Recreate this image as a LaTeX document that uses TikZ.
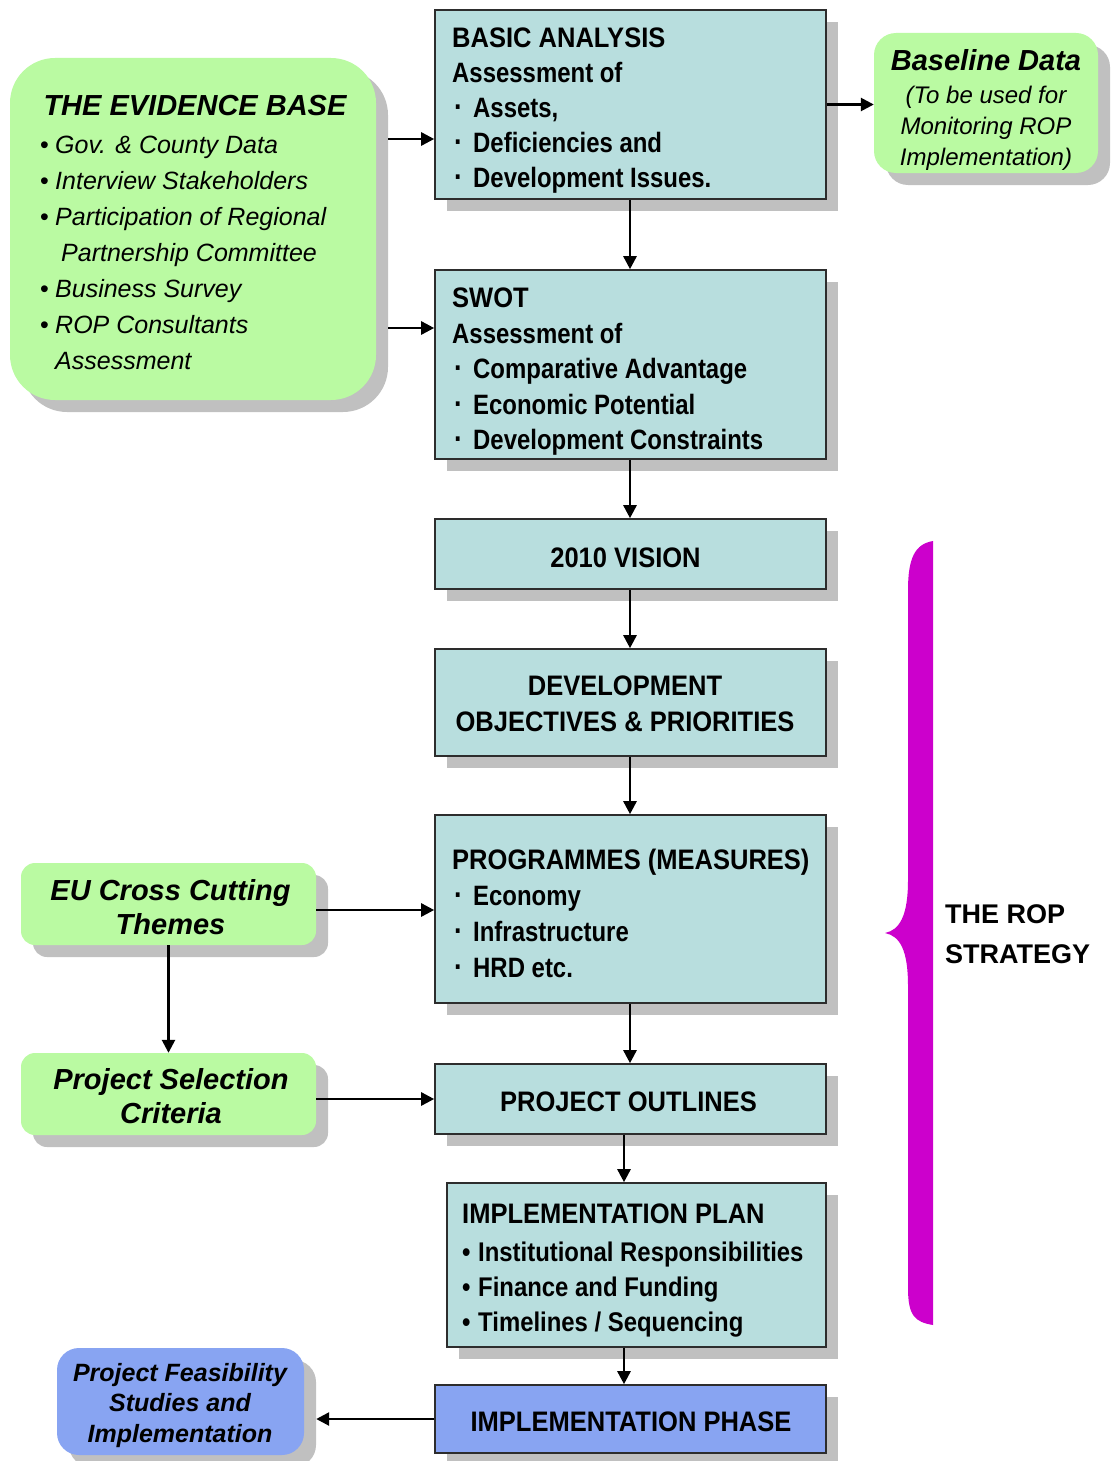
\documentclass[tikz,border=0pt]{standalone}
\usepackage{fontspec}
\setmainfont{Liberation Sans}
\newfontfamily\nca[FakeStretch=0.905]{Liberation Sans}
\newfontfamily\ncb[FakeStretch=0.855]{Liberation Sans}
\newfontfamily\ncc[FakeStretch=0.885]{Liberation Sans}
\usetikzlibrary{arrows.meta,shadows}
\definecolor{tealfill}{RGB}{184,222,222}
\definecolor{greenfill}{RGB}{186,250,162}
\definecolor{bluefill}{RGB}{136,164,242}
\definecolor{shadgray}{RGB}{192,192,192}
\definecolor{magbrace}{RGB}{204,0,204}
\definecolor{edgegray}{RGB}{45,45,45}
\newcommand{\capline}[1]{{\fontsize{28.2}{35}\selectfont\nca #1}}
\newcommand{\bitem}[1]{\makebox[21pt][l]{\hspace{2pt}{\fontsize{31}{35}\selectfont·}}#1}
\newcommand{\pitem}[1]{\makebox[16pt][l]{•}#1}
\newcommand{\eitem}[1]{\makebox[15pt][l]{\upshape•}#1}
\begin{document}
\begin{tikzpicture}[x=1pt,y=-1pt,
  shad/.style={drop shadow={shadow xshift=12pt,shadow yshift=-12pt,fill=shadgray,opacity=1}},
  mainbox/.style={draw=edgegray,line width=1.6pt,fill=tealfill,shad,inner sep=0pt},
  phasebox/.style={mainbox,fill=bluefill},
  softbox/.style={fill=greenfill,shad,inner sep=0pt},
  bluesoft/.style={fill=bluefill,shad,inner sep=0pt},
  boxtext/.style={inner sep=0pt,align=left,font=\fontsize{28}{35}\selectfont\bfseries},
  ctext/.style={inner sep=0pt,align=center,font=\fontsize{28.2}{36}\selectfont\bfseries\nca},
  arr/.style={line width=2.6pt,-{Triangle[length=13pt,width=13pt]}}]
\useasboundingbox (0,0) rectangle (1112,1461);

% main column
\node[mainbox,minimum width=391pt,minimum height=189pt] (ba) at (630.5,104.5) {};
\node[mainbox,minimum width=391pt,minimum height=189pt] (sw) at (630.5,364.5) {};
\node[mainbox,minimum width=391pt,minimum height=70pt] (vi) at (630.5,554) {};
\node[mainbox,minimum width=391pt,minimum height=107pt] (do) at (630.5,702.5) {};
\node[mainbox,minimum width=391pt,minimum height=188pt] (pr) at (630.5,909) {};
\node[mainbox,minimum width=391pt,minimum height=70pt] (po) at (630.5,1099) {};
\node[mainbox,minimum width=379pt,minimum height=164pt] (ip) at (636.5,1265) {};
\node[phasebox,minimum width=391pt,minimum height=68pt] (ph) at (630.5,1419) {};

% side boxes
\node[softbox,rounded corners=45pt,minimum width=366pt,minimum height=342pt] (ev) at (193,229) {};
\node[softbox,rounded corners=22pt,minimum width=224pt,minimum height=140pt] (bd) at (986,103) {};
\node[softbox,rounded corners=14pt,minimum width=295pt,minimum height=82pt] (eu) at (168.5,904) {};
\node[softbox,rounded corners=14pt,minimum width=295pt,minimum height=82pt] (ps) at (168.5,1094) {};
\node[bluesoft,rounded corners=22pt,minimum width=247pt,minimum height=107pt] (pf) at (180.5,1401.5) {};

% texts in main boxes
\node[boxtext,anchor=north west] (bat) at (452,28) {\capline{BASIC ANALYSIS}\\ \ncb Assessment of\\ \ncb\bitem{Assets,}\\ \ncb\bitem{Deficiencies and}\\ \ncb\bitem{Development Issues.}};
\node[boxtext,anchor=north west,font=\fontsize{28}{35.5}\selectfont\bfseries] (swt) at (452,288) {\capline{SWOT}\\ \ncb Assessment of\\ \ncb\bitem{Comparative Advantage}\\ \ncb\bitem{Economic Potential}\\ \ncb\bitem{Development Constraints}};
\node[ctext] (vit) at (625.5,558) {2010 VISION};
\node[ctext] (dot) at (625,704) {DEVELOPMENT\\OBJECTIVES \& PRIORITIES};
\node[boxtext,anchor=north west,font=\fontsize{28}{36}\selectfont\bfseries] (prt) at (452,849) {\capline{PROGRAMMES (MEASURES)}\\ \ncb\bitem{Economy}\\ \ncb\bitem{Infrastructure}\\ \ncb\bitem{HRD etc.}};
\node[ctext] (pot) at (628.5,1102) {PROJECT OUTLINES};
\node[boxtext,anchor=north west,font=\fontsize{27}{35}\selectfont\bfseries] (ipt) at (462,1204) {\capline{IMPLEMENTATION PLAN}\\[3pt] \ncc\pitem{Institutional Responsibilities}\\ \ncc\pitem{Finance and Funding}\\ \ncc\pitem{Timelines / Sequencing}};
\node[ctext] (pht) at (631,1422) {IMPLEMENTATION PHASE};

% texts in side boxes
\node[inner sep=0pt,font=\fontsize{29}{34}\selectfont\bfseries\itshape] (evt) at (195,106) {THE EVIDENCE BASE};
\node[inner sep=0pt,anchor=north west,align=left,font=\fontsize{25}{36}\selectfont\itshape] (evi) at (40,136) {\eitem{Gov. \& County Data}\\ \eitem{Interview Stakeholders}\\ \eitem{Participation of Regional}\\ \hspace*{21pt}Partnership Committee\\ \eitem{Business Survey}\\ \eitem{ROP Consultants}\\ \hspace*{15pt}Assessment};
\node[inner sep=0pt,font=\fontsize{29}{34}\selectfont\bfseries\itshape] (bdt) at (986,60) {Baseline Data};
\node[inner sep=0pt,anchor=north,align=center,font=\fontsize{24}{31}\selectfont\itshape] (bdi) at (986,85.5) {(To be used for\\Monitoring ROP\\Implementation)};
\node[inner sep=0pt,align=center,font=\fontsize{29}{34}\selectfont\bfseries\itshape] (eut) at (170.5,907) {EU Cross Cutting\\Themes};
\node[inner sep=0pt,align=center,font=\fontsize{29}{34}\selectfont\bfseries\itshape] (pst) at (171,1096) {Project Selection\\Criteria};
\node[inner sep=0pt,align=center,font=\fontsize{25}{30.5}\selectfont\bfseries\itshape] (pft) at (180,1405.5) {Project Feasibility\\Studies and\\Implementation};

% brace and strategy label
\fill[magbrace] (933,541) .. controls (915,544) and (908,558) .. (908,590) -- (908,880) .. controls (908,915) and (900,930) .. (885,933) .. controls (900,936) and (908,950) .. (908,986) -- (908,1288) .. controls (908,1316) and (915,1322) .. (933,1325) -- cycle;
\node[inner sep=0pt,anchor=north west,align=left,font=\fontsize{27}{40}\selectfont\bfseries] (rop) at (945,904) {THE ROP\\STRATEGY};

% connectors
\draw[arr] ([xshift=12pt]ev.east |- 0,139) -- (ba.west |- 0,139);
\draw[arr] ([xshift=12pt]ev.east |- 0,328) -- (sw.west |- 0,328);
\draw[arr] (ba.east) -- (ba.east -| bd.west);
\draw[arr] ([xshift=-0.5pt]ba.south) -- ([xshift=-0.5pt]sw.north);
\draw[arr] ([xshift=-0.5pt]sw.south) -- ([xshift=-0.5pt]vi.north);
\draw[arr] ([xshift=-0.5pt]vi.south) -- ([xshift=-0.5pt]do.north);
\draw[arr] ([xshift=-0.5pt]do.south) -- ([xshift=-0.5pt]pr.north);
\draw[arr] ([xshift=-0.5pt]pr.south) -- ([xshift=-0.5pt]po.north);
\draw[arr] (eu.east |- 0,910) -- (pr.west |- 0,910);
\draw[arr] (eu.south) -- (ps.north);
\draw[arr] (ps.east |- po.west) -- (po.west);
\draw[arr] ([xshift=-6.5pt]po.south) -- ([xshift=-12.5pt]ip.north);
\draw[arr] ([xshift=-12.5pt]ip.south) -- ([xshift=-12.5pt]ip.south |- ph.north);
\draw[arr] (ph.west) -- ([xshift=12pt]pf.east |- ph.west);
\end{tikzpicture}
\end{document}
